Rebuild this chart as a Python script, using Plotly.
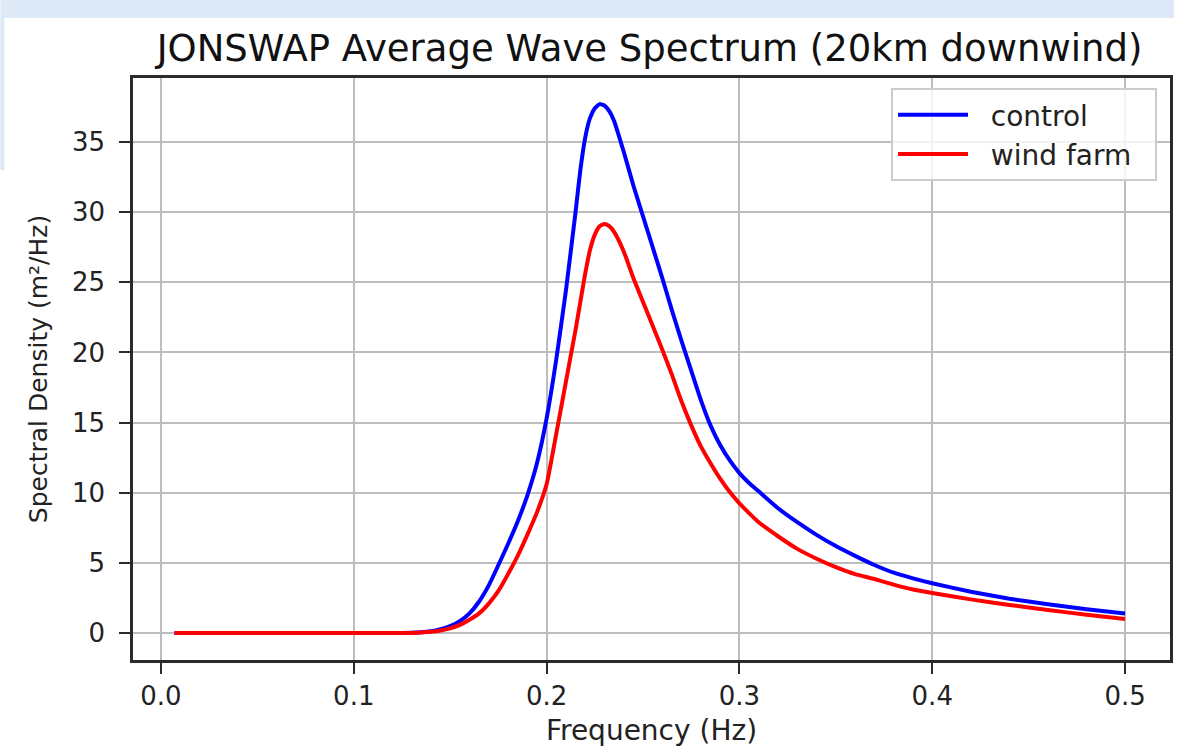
import plotly.graph_objects as go

# Frequencies (Hz)
freq = [0.007, 0.02, 0.04, 0.06, 0.08, 0.10, 0.11, 0.12, 0.13, 0.135, 0.14, 0.145,
        0.15, 0.155, 0.16, 0.165, 0.17, 0.175, 0.18, 0.185, 0.19, 0.195, 0.20,
        0.205, 0.21, 0.215, 0.2175, 0.22, 0.2225, 0.225, 0.2275, 0.23, 0.2325,
        0.235, 0.24, 0.245, 0.25, 0.255, 0.26, 0.265, 0.27, 0.275, 0.28, 0.285,
        0.29, 0.295, 0.30, 0.305, 0.31, 0.32, 0.33, 0.34, 0.35, 0.36, 0.37,
        0.38, 0.39, 0.40, 0.42, 0.44, 0.46, 0.48, 0.50]

# Spectral density (m^2/Hz), control run
control = [0.0, 0.0, 0.0, 0.0, 0.0, 0.0, 0.0, 0.0, 0.02, 0.05, 0.13, 0.28,
           0.5, 0.85, 1.4, 2.25, 3.4, 4.85, 6.35, 7.95, 9.8, 12.1, 15.3,
           19.5, 24.4, 30.0, 33.0, 35.3, 36.7, 37.4, 37.7, 37.6, 37.2,
           36.5, 34.3, 31.9, 29.7, 27.5, 25.3, 23.0, 20.8, 18.7, 16.6, 14.8,
           13.4, 12.3, 11.4, 10.7, 10.1, 8.9, 7.9, 7.0, 6.2, 5.5, 4.85,
           4.3, 3.9, 3.55, 2.95, 2.45, 2.05, 1.7, 1.4]

# Spectral density (m^2/Hz), wind farm run
wind_farm = [0.0, 0.0, 0.0, 0.0, 0.0, 0.0, 0.0, 0.0, 0.01, 0.04, 0.09, 0.18,
             0.33, 0.58, 0.95, 1.4, 2.1, 3.0, 4.2, 5.5, 7.0, 8.6, 10.6,
             14.2, 17.9, 21.6, 23.6, 25.6, 27.3, 28.4, 29.0, 29.15, 29.0,
             28.6, 27.2, 25.3, 23.6, 21.9, 20.2, 18.4, 16.5, 14.8, 13.3, 12.1,
             11.0, 10.05, 9.25, 8.55, 7.9, 6.9, 6.0, 5.3, 4.7, 4.2, 3.85,
             3.45, 3.1, 2.85, 2.4, 2.0, 1.65, 1.3, 1.0]

series_names = ["control", "wind farm"]
x_ticks = [0.0, 0.1, 0.2, 0.3, 0.4, 0.5]
y_ticks = [0, 5, 10, 15, 20, 25, 30, 35]

W, H = 1177, 747
L, R, T, B = 133, 1173, 78, 660

def px_x(p):
    return (p - L) / (R - L)

def px_y(p):
    return (B - p) / (B - T)

FONT = "DejaVu Sans"
PAD = "\u00a0\u00a0"

fig = go.Figure()
fig.add_trace(go.Scatter(x=freq, y=control, mode="lines",
                         name=PAD + series_names[0] + PAD,
                         line=dict(color="#0000ff", width=4, shape="spline", smoothing=0.5)))
fig.add_trace(go.Scatter(x=freq, y=wind_farm, mode="lines",
                         name=PAD + series_names[1] + PAD,
                         line=dict(color="#ff0000", width=4, shape="spline", smoothing=0.5)))

axis_common = dict(
    showgrid=True, gridcolor="#bdbdbd", gridwidth=2,
    showline=True, linecolor="#2b2b2b", linewidth=2.5, mirror=True,
    ticks="outside", ticklen=11, tickwidth=2, tickcolor="#2b2b2b",
    zeroline=False,
    tickfont=dict(family=FONT, size=26, color="#222222"),
)

fig.update_layout(
    width=W, height=H,
    margin=dict(l=L, r=W - R, t=T, b=H - B),
    paper_bgcolor="white", plot_bgcolor="white",
    title=dict(text="JONSWAP Average Wave Spectrum (20km downwind)",
               x=px_x(651), xanchor="center", xref="paper",
               y=1 - 48 / H, yanchor="middle",
               font=dict(family=FONT, size=37, color="#111111")),
    xaxis=dict(axis_common, range=[-0.0145, 0.5233], tickvals=x_ticks,
               ticktext=[f"{v:.1f}" for v in x_ticks],
               title=dict(text="Frequency (Hz)", standoff=12,
                          font=dict(family=FONT, size=28, color="#222222"))),
    yaxis=dict(axis_common, range=[-1.92, 39.56], tickvals=y_ticks,
               ticklabelstandoff=9,
               title=dict(text="Spectral Density (m²/Hz)", standoff=18,
                          font=dict(family=FONT, size=25, color="#222222"))),
    showlegend=True,
    legend=dict(x=px_x(1160), xanchor="right", y=px_y(88), yanchor="top",
                bgcolor="rgba(255,255,255,0.8)", bordercolor="#cccccc", borderwidth=2,
                font=dict(family=FONT, size=28, color="#222222"),
                itemwidth=70, tracegroupgap=4),
    shapes=[
        dict(type="rect", xref="paper", yref="paper",
             x0=px_x(0), x1=px_x(W), y0=px_y(18), y1=px_y(0),
             fillcolor="#dde9f6", line=dict(width=0), layer="below"),
        dict(type="rect", xref="paper", yref="paper",
             x0=px_x(0), x1=px_x(4), y0=px_y(170), y1=px_y(18),
             fillcolor="#dde9f6", line=dict(width=0), layer="below"),
    ],
)

fig.write_html("out.html", config={"displayModeBar": False},
               post_script="document.body.style.margin='0';document.body.style.padding='0';")
